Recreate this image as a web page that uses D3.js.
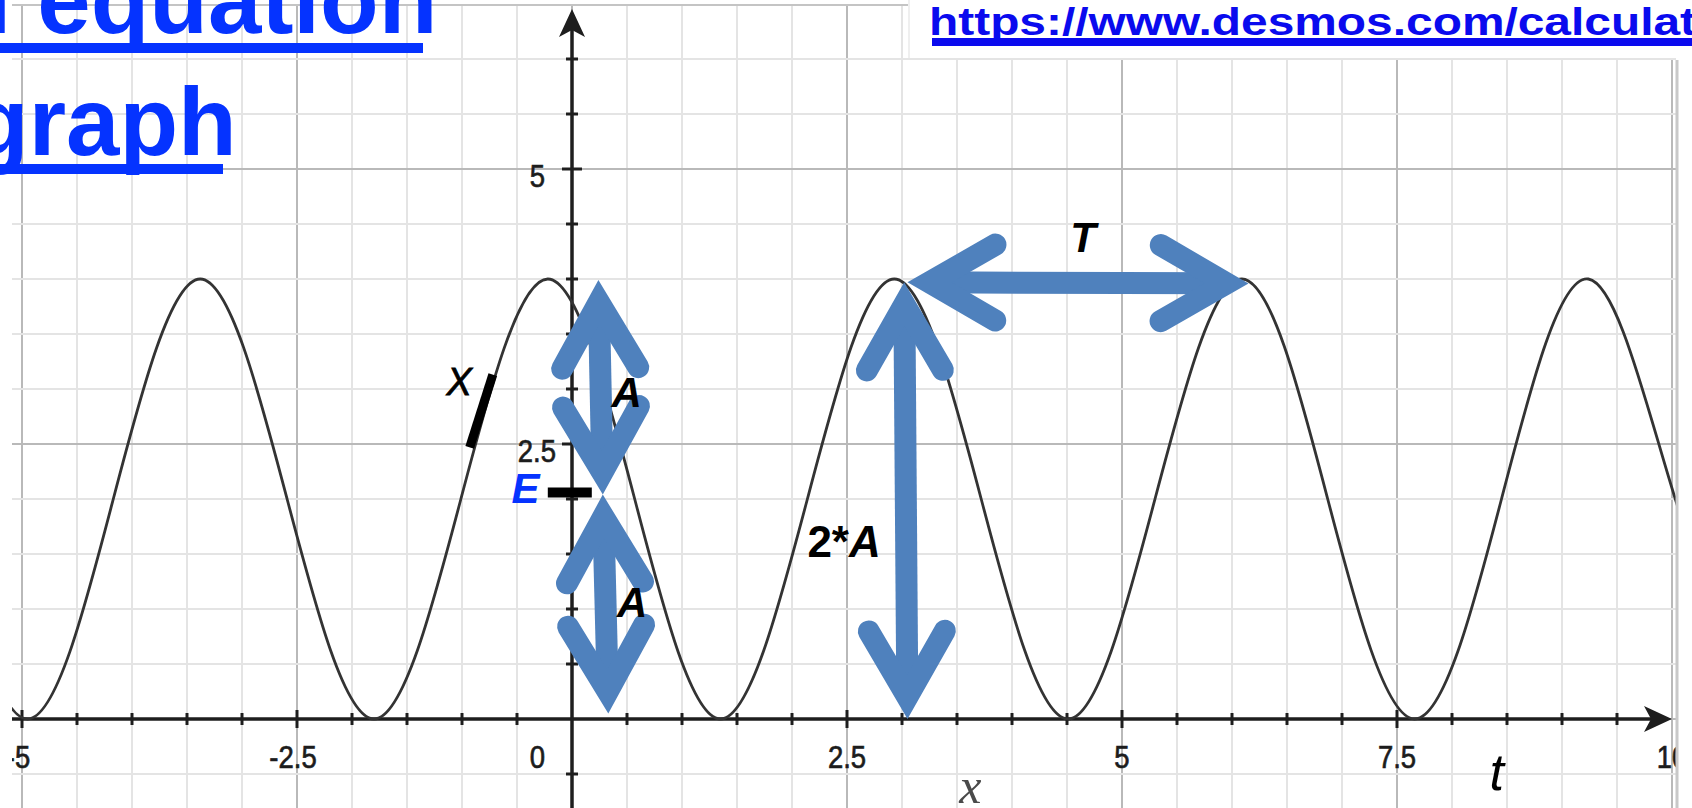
<!DOCTYPE html>
<html>
<head>
<meta charset="utf-8">
<script src="https://cdn.jsdelivr.net/npm/d3@7"></script>
<style>
  html, body { margin: 0; padding: 0; background: #fff; overflow: hidden; }
  svg { display: block; }
</style>
</head>
<body>
<div id="chart"></div>
<script>
// values
var xTicks = [-5, -2.5, 0, 2.5, 5, 7.5, 10];
var xTickLabels = ["-5", "-2.5", "0", "2.5", "5", "7.5", "10"];
var yTicks = [2.5, 5];
var yTickLabels = ["2.5", "5"];

// the wave: troughs, midline crossings and crests
var curveT = [-5.74, -4.95, -4.17, -3.38, -2.59, -1.80, -1.01, -0.22, 0.57, 1.35, 2.14,
              2.93, 3.72, 4.51, 5.30, 6.09, 6.87, 7.66, 8.45, 9.24, 10.03, 10.82];
var curveX = [2, 0, 2, 4, 2, 0, 2, 4, 2, 0, 2,
              4, 2, 0, 2, 4, 2, 0, 2, 4, 2, 0];

// double headed annotation arrows (graph units)
var arrowNames = ["A top", "A bottom", "2*A", "T"];
var arrowX1 = [0.24, 0.28, 3.02, 3.05];
var arrowY1 = [3.99, 2.04, 3.97, 3.97];
var arrowX2 = [0.28, 0.33, 3.05, 6.15];
var arrowY2 = [2.04, 0.05, 0.00, 3.96];

// annotation labels (graph units, left / baseline)
var noteText = ["A", "A", "T", "E", "X"];
var noteX = [0.36, 0.41, 4.53, -0.55, -1.14];
var noteY = [2.84, 0.93, 4.25, 1.96, 2.95];

// black marks: E level and the X (graph) marker
var eMarkX = [-0.22, 0.18];
var eMarkY = 2.06;
var xMarkX = [-0.72, -0.93];
var xMarkY = [3.13, 2.47];

var width = 1692, height = 808;
var plot = { left: 12, right: 1676, top: 4, bottom: 808 };
var blue = "#4f81bd";

var x = d3.scaleLinear().domain([-5, 10]).range([22, 1672]);
var y = d3.scaleLinear().domain([0, 5]).range([719, 169]);

var svg = d3.select("#chart").append("svg")
  .attr("width", width).attr("height", height)
  .style("font-family", "'Liberation Sans', Arial, sans-serif");

svg.append("defs").append("clipPath").attr("id", "plotClip")
  .append("rect")
  .attr("x", plot.left).attr("y", plot.top)
  .attr("width", plot.right - plot.left).attr("height", plot.bottom - plot.top);

var g = svg.append("g").attr("clip-path", "url(#plotClip)");

// grid
var halfX = d3.range(-11, 21).map(function (i) { return i / 2; });
var halfY = d3.range(-2, 14).map(function (i) { return i / 2; });
function isMajor(v) { return Math.abs(v / 2.5 - Math.round(v / 2.5)) < 1e-6; }

g.selectAll("line.vgrid").data(halfX).join("line")
  .attr("class", "vgrid")
  .attr("x1", function (d) { return x(d); }).attr("x2", function (d) { return x(d); })
  .attr("y1", plot.top).attr("y2", plot.bottom)
  .attr("stroke", function (d) { return isMajor(d) ? "#b9b9b9" : "#e4e4e4"; })
  .attr("stroke-width", 2);

g.selectAll("line.hgrid").data(halfY).join("line")
  .attr("class", "hgrid")
  .attr("y1", function (d) { return y(d); }).attr("y2", function (d) { return y(d); })
  .attr("x1", plot.left).attr("x2", plot.right)
  .attr("stroke", function (d) { return isMajor(d) ? "#b9b9b9" : "#e4e4e4"; })
  .attr("stroke-width", 2);

g.append("line")
  .attr("x1", plot.left).attr("x2", plot.right)
  .attr("y1", plot.top + 1).attr("y2", plot.top + 1)
  .attr("stroke", "#c4c4c4").attr("stroke-width", 2);

// axes
var axisColor = "#1e1e1e";
var xArrowTip = plot.right - 4, yArrowTip = plot.top + 5;
g.append("line")
  .attr("x1", plot.left).attr("x2", xArrowTip - 10)
  .attr("y1", y(0)).attr("y2", y(0))
  .attr("stroke", axisColor).attr("stroke-width", 3.5);
g.append("line")
  .attr("x1", x(0)).attr("x2", x(0))
  .attr("y1", plot.bottom).attr("y2", yArrowTip + 10)
  .attr("stroke", axisColor).attr("stroke-width", 3.5);

g.append("path")
  .attr("d", "M" + xArrowTip + "," + y(0) + " L" + (xArrowTip - 28) + "," + (y(0) - 13) +
    " L" + (xArrowTip - 21) + "," + y(0) + " L" + (xArrowTip - 28) + "," + (y(0) + 13) + "Z")
  .attr("fill", axisColor);
g.append("path")
  .attr("d", "M" + x(0) + "," + yArrowTip + " L" + (x(0) - 13) + "," + (yArrowTip + 28) +
    " L" + x(0) + "," + (yArrowTip + 21) + " L" + (x(0) + 13) + "," + (yArrowTip + 28) + "Z")
  .attr("fill", axisColor);

var xTickVals = halfX.filter(function (d) { return d >= -5 && d <= 9.5 && d !== 0; });
var yTickVals = halfY.filter(function (d) { return d >= -0.5 && d <= 6 && d !== 0; });
g.selectAll("line.xtick").data(xTickVals).join("line")
  .attr("class", "xtick")
  .attr("x1", function (d) { return x(d); }).attr("x2", function (d) { return x(d); })
  .attr("y1", function (d) { return y(0) - (isMajor(d) ? 9 : 6); })
  .attr("y2", function (d) { return y(0) + (isMajor(d) ? 9 : 6); })
  .attr("stroke", axisColor).attr("stroke-width", 3);
g.selectAll("line.ytick").data(yTickVals).join("line")
  .attr("class", "ytick")
  .attr("y1", function (d) { return y(d); }).attr("y2", function (d) { return y(d); })
  .attr("x1", function (d) { return x(0) - (isMajor(d) ? 10 : 6); })
  .attr("x2", function (d) { return x(0) + (isMajor(d) ? 10 : 6); })
  .attr("stroke", axisColor).attr("stroke-width", 3);

// tick labels (slightly condensed like the screenshot)
var labelColor = "#1c1c1c";
g.selectAll("text.xlab").data(xTicks).join("text")
  .attr("class", "xlab")
  .attr("transform", function (d) {
    var px = d === 0 ? x(0) - 27 : x(d) - (d < 0 ? 4 : 0);
    return "translate(" + px + "," + (y(0) + 49) + ") scale(0.86,1)";
  })
  .attr("text-anchor", function (d) { return d === 0 ? "end" : "middle"; })
  .attr("font-size", 32).attr("fill", labelColor)
  .attr("stroke", labelColor).attr("stroke-width", 0.7)
  .text(function (d, i) { return xTickLabels[i]; });

g.selectAll("text.ylab").data(yTicks).join("text")
  .attr("class", "ylab")
  .attr("transform", function (d) {
    return "translate(" + (x(0) - (d === 5 ? 27 : 16)) + "," + (y(d) + 18) + ") scale(0.86,1)";
  })
  .attr("text-anchor", "end")
  .attr("font-size", 32).attr("fill", labelColor)
  .attr("stroke", labelColor).attr("stroke-width", 0.7)
  .text(function (d, i) { return yTickLabels[i]; });

// the wave
var wave = d3.line()
  .x(function (d, i) { return x(curveT[i]); })
  .y(function (d, i) { return y(curveX[i]); })
  .curve(d3.curveNatural);
g.append("path")
  .attr("d", wave(curveT))
  .attr("fill", "none").attr("stroke", "#333").attr("stroke-width", 2.8);

// axis names
g.append("text")
  .attr("x", x(3.52)).attr("y", 803)
  .attr("font-family", "'Liberation Serif', 'DejaVu Serif', serif")
  .attr("font-style", "italic").attr("font-size", 50).attr("fill", "#4a4a4a")
  .text("x");
g.append("text")
  .attr("x", x(8.34)).attr("y", 790)
  .attr("font-style", "italic").attr("font-size", 52).attr("fill", "#000")
  .text("t");

// right border of the graph
svg.append("rect").attr("x", plot.right).attr("y", 0)
  .attr("width", width - plot.right).attr("height", height).attr("fill", "#fff");
svg.append("line").attr("x1", plot.right + 1).attr("x2", plot.right + 1)
  .attr("y1", 60).attr("y2", height)
  .attr("stroke", "#c8c8c8").attr("stroke-width", 3);

// link box at the top right
svg.append("rect").attr("x", 908).attr("y", 0)
  .attr("width", width - 908).attr("height", 58).attr("fill", "#fff");
svg.append("line").attr("x1", 909).attr("x2", 909).attr("y1", 0).attr("y2", 58)
  .attr("stroke", "#efefef").attr("stroke-width", 2);
svg.append("text")
  .attr("transform", "translate(929,35) scale(1.228,1)")
  .attr("font-size", 39).attr("font-weight", "bold").attr("fill", "#0a0aee")
  .text("https://www.desmos.com/calculator");
svg.append("rect").attr("x", 932).attr("y", 38)
  .attr("width", width - 932).attr("height", 8).attr("fill", "#0a0aee");

// title link
var titleBlue = "#0533ff";
svg.append("text").attr("x", -48).attr("y", 33)
  .attr("font-size", 96).attr("font-weight", "bold").attr("fill", titleBlue)
  .text("n equation");
svg.append("rect").attr("x", 0).attr("y", 43).attr("width", 423).attr("height", 10).attr("fill", titleBlue);
svg.append("text").attr("x", -30).attr("y", 155)
  .attr("font-size", 96).attr("font-weight", "bold").attr("fill", titleBlue)
  .text("graph");
svg.append("rect").attr("x", 0).attr("y", 164).attr("width", 223).attr("height", 10).attr("fill", titleBlue);

// black marks
svg.append("line")
  .attr("x1", x(eMarkX[0])).attr("x2", x(eMarkX[1]))
  .attr("y1", y(eMarkY)).attr("y2", y(eMarkY))
  .attr("stroke", "#000").attr("stroke-width", 10);
svg.append("line")
  .attr("x1", x(xMarkX[0])).attr("x2", x(xMarkX[1]))
  .attr("y1", y(xMarkY[0])).attr("y2", y(xMarkY[1]))
  .attr("stroke", "#000").attr("stroke-width", 9);

// blue arrows
var sw = 22, theta = Math.PI / 6, armLen = 76;
var miter = (sw / 2) / Math.sin(theta);
function head(tx, ty, dx, dy) {
  var vx = tx - dx * miter, vy = ty - dy * miter;
  function arm(a) {
    var c = Math.cos(a), s = Math.sin(a);
    var rx = -(dx * c - dy * s), ry = -(dx * s + dy * c);
    return [vx + rx * armLen, vy + ry * armLen];
  }
  var a1 = arm(theta), a2 = arm(-theta);
  return { v: [vx, vy], d: "M" + a1[0] + "," + a1[1] + " L" + vx + "," + vy + " L" + a2[0] + "," + a2[1] };
}
var arrows = svg.append("g").attr("fill", "none").attr("stroke", blue);
arrowNames.forEach(function (name, i) {
  var p0 = [x(arrowX1[i]), y(arrowY1[i])], p1 = [x(arrowX2[i]), y(arrowY2[i])];
  var len = Math.hypot(p1[0] - p0[0], p1[1] - p0[1]);
  var dx = (p1[0] - p0[0]) / len, dy = (p1[1] - p0[1]) / len;
  var h1 = head(p1[0], p1[1], dx, dy), h0 = head(p0[0], p0[1], -dx, -dy);
  arrows.append("line")
    .attr("x1", h0.v[0]).attr("y1", h0.v[1]).attr("x2", h1.v[0]).attr("y2", h1.v[1])
    .attr("stroke-width", sw);
  [h0, h1].forEach(function (h) {
    arrows.append("path").attr("d", h.d)
      .attr("stroke-width", sw).attr("stroke-linecap", "round").attr("stroke-linejoin", "miter");
  });
});

// annotation labels
svg.selectAll("text.note").data(noteText).join("text")
  .attr("class", "note")
  .attr("x", function (d, i) { return x(noteX[i]); })
  .attr("y", function (d, i) { return y(noteY[i]); })
  .attr("font-size", function (d) { return d === "X" ? 38 : 42; })
  .attr("font-weight", function (d) { return d === "X" ? "normal" : "bold"; })
  .attr("font-style", "italic")
  .attr("fill", function (d) { return d === "E" ? titleBlue : "#000"; })
  .attr("stroke", function (d) { return d === "X" ? "#000" : "none"; })
  .attr("stroke-width", 0.8)
  .text(function (d) { return d; });

var twoA = svg.append("text")
  .attr("x", x(2.14)).attr("y", y(1.47))
  .attr("font-size", 44).attr("font-weight", "bold").attr("fill", "#000");
twoA.append("tspan").text("2*");
twoA.append("tspan").attr("font-style", "italic").text("A");
</script>
</body>
</html>
